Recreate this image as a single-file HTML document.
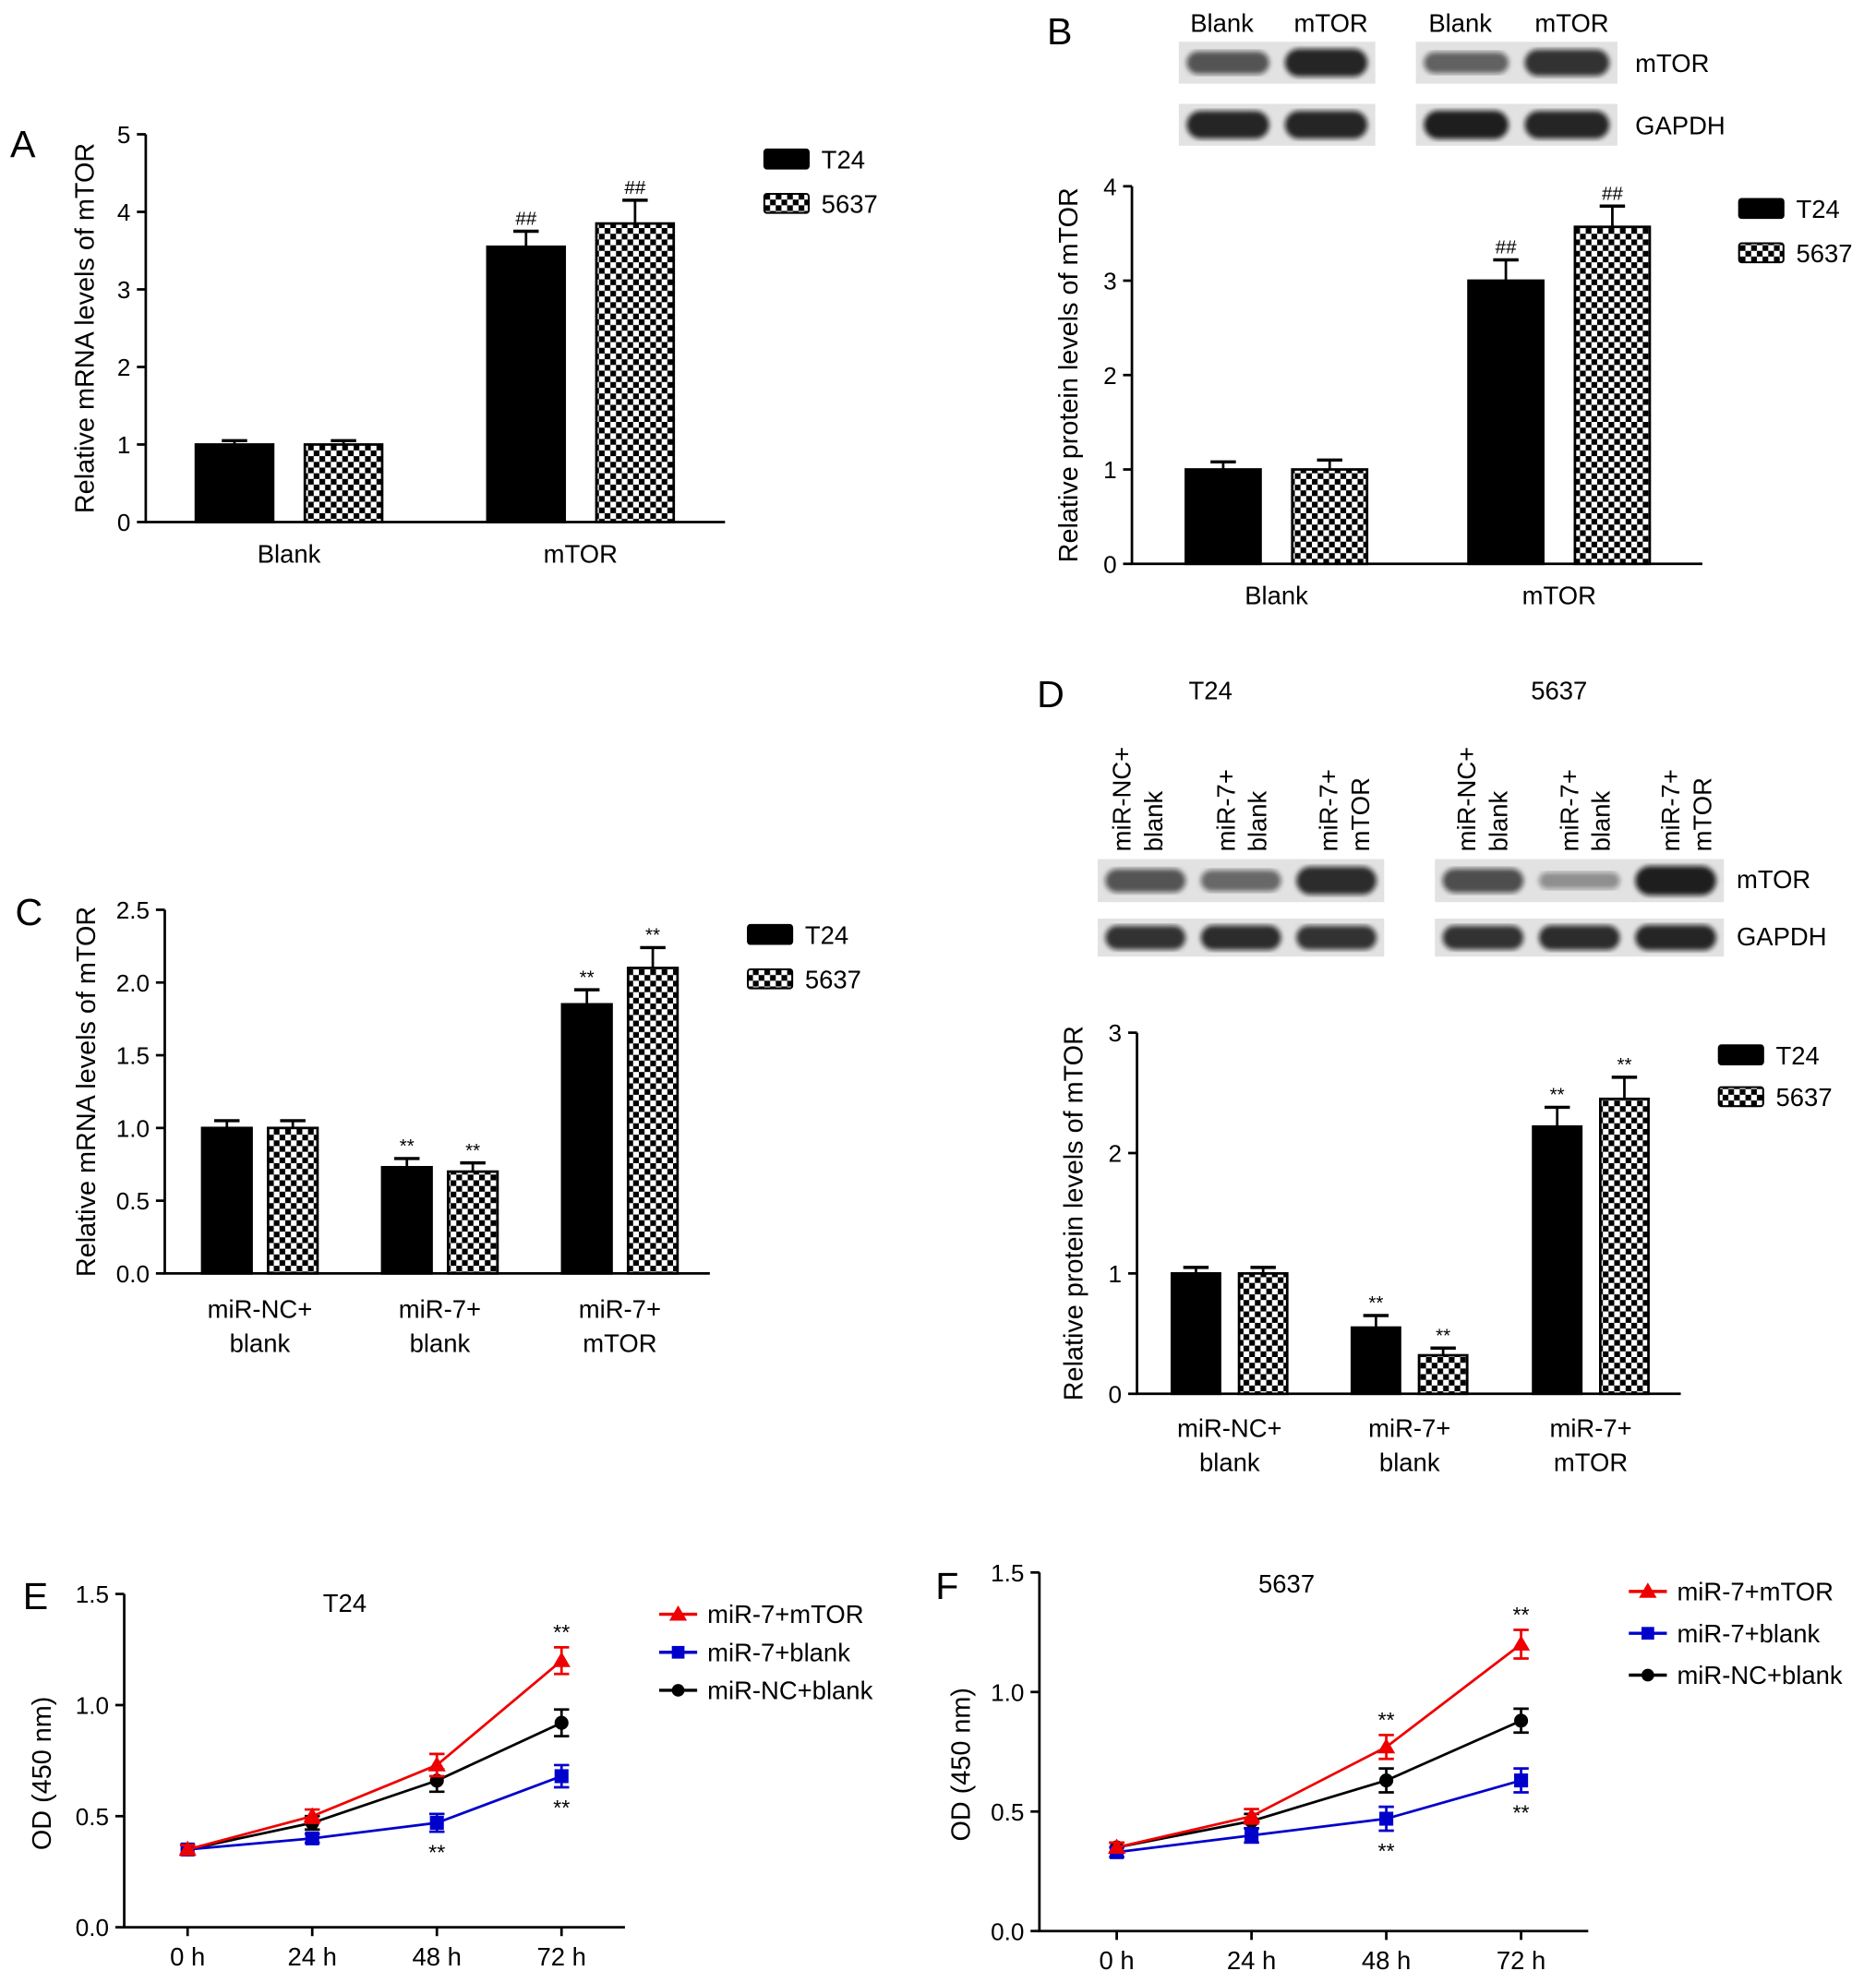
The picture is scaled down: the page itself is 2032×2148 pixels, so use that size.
<!DOCTYPE html>
<html><head><meta charset="utf-8"><style>
html,body{margin:0;padding:0;background:#fff;}
svg{display:block;font-family:"Liberation Sans",sans-serif;}
</style></head><body>
<svg id="fig" width="2032" height="2148" viewBox="0 0 1480 1565" preserveAspectRatio="none" xmlns="http://www.w3.org/2000/svg">
<defs>
<pattern id="chk" width="9" height="9" patternUnits="userSpaceOnUse">
<rect width="9" height="9" fill="#fff"/><rect width="4.5" height="4.5" fill="#000"/><rect x="4.5" y="4.5" width="4.5" height="4.5" fill="#000"/>
</pattern>
<filter id="blur"><feGaussianBlur stdDeviation="2"/></filter>
</defs>
</svg>
<script>
// ---- data ----
const aCategories = ["Blank","mTOR"];
const aT24 = [1.0, 3.55];
const a5637 = [1.0, 3.85];
const aT24Err = [0.05, 0.2];
const a5637Err = [0.05, 0.3];
const aMarks = [["",""],["##","##"]];
const aTicks = [0,1,2,3,4,5];

const bCategories = ["Blank","mTOR"];
const bT24 = [1.0, 3.0];
const b5637 = [1.0, 3.57];
const bT24Err = [0.08, 0.22];
const b5637Err = [0.1, 0.22];
const bMarks = [["",""],["##","##"]];
const bTicks = [0,1,2,3,4];

const cCategories = [["miR-NC+","blank"],["miR-7+","blank"],["miR-7+","mTOR"]];
const cT24 = [1.0, 0.73, 1.85];
const c5637 = [1.0, 0.7, 2.1];
const cT24Err = [0.05, 0.06, 0.1];
const c5637Err = [0.05, 0.06, 0.14];
const cMarks = [["",""],["**","**"],["**","**"]];
const cTicks = ["0.0","0.5","1.0","1.5","2.0","2.5"];

const dCategories = [["miR-NC+","blank"],["miR-7+","blank"],["miR-7+","mTOR"]];
const dT24 = [1.0, 0.55, 2.22];
const d5637 = [1.0, 0.32, 2.45];
const dT24Err = [0.05, 0.1, 0.16];
const d5637Err = [0.05, 0.06, 0.18];
const dMarks = [["",""],["**","**"],["**","**"]];
const dTicks = [0,1,2,3];

const timeLabels = ["0 h","24 h","48 h","72 h"];
const eRed = [0.35, 0.5, 0.73, 1.2];
const eBlue = [0.35, 0.4, 0.47, 0.68];
const eBlack = [0.35, 0.47, 0.66, 0.92];
const eRedErr = [0.02, 0.03, 0.05, 0.06];
const eBlueErr = [0.02, 0.02, 0.04, 0.05];
const eBlackErr = [0.02, 0.03, 0.05, 0.06];
const fRed = [0.35, 0.48, 0.77, 1.2];
const fBlue = [0.33, 0.4, 0.47, 0.63];
const fBlack = [0.35, 0.46, 0.63, 0.88];
const fRedErr = [0.02, 0.03, 0.05, 0.06];
const fBlueErr = [0.02, 0.03, 0.05, 0.05];
const fBlackErr = [0.02, 0.03, 0.05, 0.05];
const lineTicks = ["0.0","0.5","1.0","1.5"];

const svg = document.getElementById('fig');
const NS = "http://www.w3.org/2000/svg";
function mk(tag, a, parent){const e=document.createElementNS(NS,tag);for(const k in a)e.setAttribute(k,a[k]);(parent||svg).appendChild(e);return e;}
function txt(x,y,s,size,anchor,parent,extra){const t=mk('text',Object.assign({x:x,y:y,'font-size':size,'text-anchor':anchor||'middle',fill:'#000'},extra||{}),parent);t.textContent=s;return t;}

function panelLetter(x,y,s){
  const t=txt(x,y,s,30,'start');
  
  
}

function barChart(id,o){
  const g=mk('g',{});
  
  
  const ymax=o.ticks.length-1, step=o.tickStep;
  const Y=v=>o.y0-(o.y0-o.yTop)*v/(ymax*step);
  const ax=mk('path',{d:`M${o.x0} ${o.yTop} V${o.y0} H${o.x1}`,stroke:'#000','stroke-width':2,fill:'none'},g);
  
  
  o.ticks.forEach((tk,i)=>{
    const y=Y(i*step);
    mk('line',{x1:o.x0-7,x2:o.x0,y1:y,y2:y,stroke:'#000','stroke-width':2},g);
    const t=txt(o.x0-12,y+7,String(tk),19,'end',g);
    
    
  });
  const yt=txt(0,0,o.ytitle,21,'middle',g,{transform:`translate(${o.ytx},${(o.y0+o.yTop)/2}) rotate(-90)`});
  
  
  const seriesList=[[o.vals1,o.errs1,'#000'],[o.vals2,o.errs2,'url(#chk)']];
  o.cats.forEach((c,i)=>{
    const cx=o.catX[i];
    const w=o.bw, gap=o.gap;
    seriesList.forEach((s,j)=>{
      const x=j===0?cx-gap/2-w:cx+gap/2;
      const v=s[0][i], e=s[1][i];
      mk('line',{x1:x+w/2,x2:x+w/2,y1:Y(v),y2:Y(v+e),stroke:'#000','stroke-width':2},g);
      mk('line',{x1:x+w/2-10,x2:x+w/2+10,y1:Y(v+e),y2:Y(v+e),stroke:'#000','stroke-width':2.5},g);
      const r=mk('rect',{x:x,y:Y(v),width:w,height:o.y0-Y(v),fill:s[2],stroke:'#000','stroke-width':2},g);
      
      
      const m=o.marks[i][j];
      if(m){const mt=txt(x+w/2,Y(v+e)-5,m,15,'middle',g);
        
        }
    });
    const lines=Array.isArray(c)?c:[c];
    lines.forEach((l,k)=>{
      const t=txt(cx,o.catY+k*27,l,20,'middle',g);
      
      
    });
  });
  [['T24','#000'],['5637','url(#chk)']].forEach((L,k)=>{
    const y=o.legY+k*o.legGap;
    const r=mk('rect',{x:o.legX,y:y,width:35,height:15,fill:L[1],stroke:'#000','stroke-width':1.5,rx:2},g);
    
    
    const t=txt(o.legX+45,y+15,L[0],20,'start',g);
    
    
  });
}

function blot(name,x,y,w,h,intens){
  const g=mk('g',{});
  
  
  mk('rect',{x:x,y:y,width:w,height:h,fill:'#e2e2e2'},g);
  const n=intens.length, lw=w/n;
  intens.forEach((v,i)=>{
    const bh=h*0.35+h*0.35*v;
    mk('rect',{x:x+i*lw+lw*0.08,y:y+(h-bh)/2,width:lw*0.84,height:bh,rx:bh/2,fill:'#111','fill-opacity':0.35+0.6*v,filter:'url(#blur)'},g);
  });
}

function lineChart(id,o){
  const g=mk('g',{});
  
  
  const Y=v=>o.y0-(o.y0-o.yTop)*v/1.5;
  const X=i=>o.px[0]+(o.px[1]-o.px[0])*i/3;
  const ax=mk('path',{d:`M${o.x0} ${o.yTop} V${o.y0} H${o.x1}`,stroke:'#000','stroke-width':2,fill:'none'},g);
  
  
  lineTicks.forEach((tk,i)=>{
    const y=Y(i*0.5);
    mk('line',{x1:o.x0-7,x2:o.x0,y1:y,y2:y,stroke:'#000','stroke-width':2},g);
    const t=txt(o.x0-12,y+7,tk,19,'end',g);
    
    
  });
  timeLabels.forEach((tk,i)=>{
    mk('line',{x1:X(i),x2:X(i),y1:o.y0,y2:o.y0+7,stroke:'#000','stroke-width':2},g);
    const t=txt(X(i),o.y0+30,tk,20,'middle',g);
    
    
  });
  const yt=txt(0,0,'OD (450 nm)',21,'middle',g,{transform:`translate(${o.ytx},${(o.y0+o.yTop)/2+10}) rotate(-90)`});
  
  
  const tt=txt(o.titleX,o.titleY,o.title,20,'middle',g);
  
  
  const series=[['black','#000',o.black,o.blackE,'circle'],['blue','#0000cc',o.blue,o.blueE,'square'],['red','#ee0000',o.red,o.redE,'triangle']];
  series.forEach(s=>{
    const pts=s[2].map((v,i)=>X(i)+','+Y(v)).join(' ');
    const pl=mk('polyline',{points:pts,fill:'none',stroke:s[1],'stroke-width':2},g);
    
    
    s[2].forEach((v,i)=>{
      const e=s[3][i],x=X(i);
      mk('path',{d:`M${x} ${Y(v-e)}V${Y(v+e)}M${x-6} ${Y(v-e)}H${x+6}M${x-6} ${Y(v+e)}H${x+6}`,stroke:s[1],'stroke-width':2,fill:'none'},g);
      let p;
      if(s[4]==='circle')p=mk('circle',{cx:x,cy:Y(v),r:5.5,fill:s[1]},g);
      else if(s[4]==='square')p=mk('rect',{x:x-5.5,y:Y(v)-5.5,width:11,height:11,fill:s[1]},g);
      else p=mk('path',{d:`M${x} ${Y(v)-7}L${x+7} ${Y(v)+5}L${x-7} ${Y(v)+5}Z`,fill:s[1]},g);
      
      
    });
  });
  o.stars.forEach(st=>{
    const arr=st[1]==='red'?o.red:o.blue, err=st[1]==='red'?o.redE:o.blueE;
    const i=st[0];
    const y=st[1]==='red'?Y(arr[i]+err[i])-6:Y(arr[i]-err[i])+22;
    const t=txt(X(i),y,'**',17,'middle',g);
    
    
  });
  [['miR-7+mTOR','#ee0000','triangle'],['miR-7+blank','#0000cc','square'],['miR-NC+blank','#000','circle']].forEach((L,k)=>{
    const y=o.legY+k*o.legGap, x=o.legX;
    mk('line',{x1:x,x2:x+30,y1:y,y2:y,stroke:L[1],'stroke-width':2.5},g);
    const cx=x+15;
    let p;
    if(L[2]==='circle')p=mk('circle',{cx:cx,cy:y,r:5,fill:L[1]},g);
    else if(L[2]==='square')p=mk('rect',{x:cx-5,y:y-5,width:10,height:10,fill:L[1]},g);
    else p=mk('path',{d:`M${cx} ${y-7}L${cx+7} ${y+5}L${cx-7} ${y+5}Z`,fill:L[1]},g);
    
    
    const t=txt(x+38,y+7,L[0],20,'start',g);
    
    
  });
}

// Panel A
panelLetter(8,124,'A');
barChart('panel-a',{x0:115,x1:572,y0:412,yTop:106,ticks:aTicks,tickStep:1,cats:aCategories,catX:[228,458],bw:61,gap:25,
  vals1:aT24,errs1:aT24Err,vals2:a5637,errs2:a5637Err,marks:aMarks,catY:444,ytitle:'Relative mRNA levels of mTOR',ytx:74,legX:603,legY:118,legGap:35});
// Panel B
panelLetter(826,35,'B');
[['Blank',964],['mTOR',1050],['Blank',1152],['mTOR',1240]].forEach(l=>{const t=txt(l[1],25,l[0],20,'middle');
  
  });
blot('blot-b-mtor-t24',930,33,155,33,[0.55,0.9]);
blot('blot-b-mtor-5637',1117,33,159,33,[0.45,0.8]);
blot('blot-b-gapdh-t24',930,82,155,33,[0.9,0.9]);
blot('blot-b-gapdh-5637',1117,82,159,33,[0.95,0.9]);
[['mTOR',1290,57],['GAPDH',1290,106]].forEach(l=>{const t=txt(l[1],l[2],l[0],20,'start');
  
  });
barChart('panel-b',{x0:893,x1:1343,y0:445,yTop:147,ticks:bTicks,tickStep:1,cats:bCategories,catX:[1007,1230],bw:59,gap:25,
  vals1:bT24,errs1:bT24Err,vals2:b5637,errs2:b5637Err,marks:bMarks,catY:477,ytitle:'Relative protein levels of mTOR',ytx:850,legX:1372,legY:157,legGap:35});
// Panel C
panelLetter(12,730,'C');
barChart('panel-c',{x0:130,x1:560,y0:1005,yTop:718,ticks:cTicks,tickStep:0.5,cats:cCategories,catX:[205,347,489],bw:39,gap:13,
  vals1:cT24,errs1:cT24Err,vals2:c5637,errs2:c5637Err,marks:cMarks,catY:1040,ytitle:'Relative mRNA levels of mTOR',ytx:75,legX:590,legY:730,legGap:35});
// Panel D
panelLetter(818,558,'D');
[['T24',955],['5637',1230]].forEach(l=>{const t=txt(l[1],552,l[0],20,'middle');
  
  });
[[885,'miR-NC+'],[910,'blank'],[967,'miR-7+'],[992,'blank'],[1048,'miR-7+'],[1073,'mTOR'],
 [1157,'miR-NC+'],[1182,'blank'],[1238,'miR-7+'],[1263,'blank'],[1318,'miR-7+'],[1343,'mTOR']].forEach(l=>{
  const t=txt(0,0,l[1],20,'start',svg,{transform:`translate(${l[0]+7},672) rotate(-90)`});
  
  });
blot('blot-d-mtor-t24',866,678,226,34,[0.55,0.4,0.85]);
blot('blot-d-mtor-5637',1132,678,228,34,[0.6,0.1,0.95]);
blot('blot-d-gapdh-t24',866,725,226,30,[0.8,0.85,0.8]);
blot('blot-d-gapdh-5637',1132,725,228,30,[0.8,0.85,0.9]);
[['mTOR',1370,701],['GAPDH',1370,746]].forEach(l=>{const t=txt(l[1],l[2],l[0],20,'start');
  
  });
barChart('panel-d',{x0:897,x1:1326,y0:1100,yTop:815,ticks:dTicks,tickStep:1,cats:dCategories,catX:[970,1112,1255],bw:38,gap:15,
  vals1:dT24,errs1:dT24Err,vals2:d5637,errs2:d5637Err,marks:dMarks,catY:1134,ytitle:'Relative protein levels of mTOR',ytx:854,legX:1356,legY:825,legGap:33});
// Panel E
panelLetter(18,1270,'E');
lineChart('panel-e',{x0:98,x1:493,y0:1521,yTop:1258,px:[148,443],ytx:40,title:'T24',titleX:272,titleY:1272,
  red:eRed,blue:eBlue,black:eBlack,redE:eRedErr,blueE:eBlueErr,blackE:eBlackErr,
  stars:[[3,'red'],[3,'blue'],[2,'blue']],legX:520,legY:1274,legGap:30});
// Panel F
panelLetter(738,1262,'F');
lineChart('panel-f',{x0:820,x1:1253,y0:1524,yTop:1241,px:[881,1200],ytx:765,title:'5637',titleX:1015,titleY:1257,
  red:fRed,blue:fBlue,black:fBlack,redE:fRedErr,blueE:fBlueErr,blackE:fBlackErr,
  stars:[[2,'red'],[3,'red'],[2,'blue'],[3,'blue']],legX:1285,legY:1256,legGap:33});
</script>
</body></html>
